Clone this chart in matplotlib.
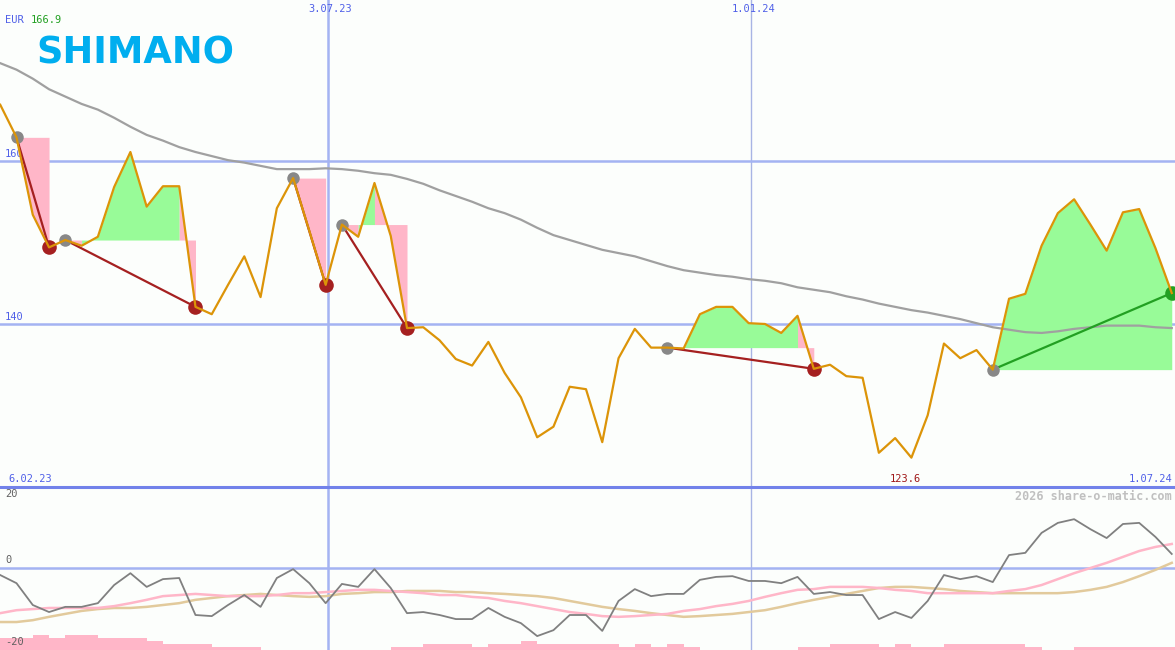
import matplotlib
matplotlib.use('Agg')
import matplotlib.pyplot as plt
import matplotlib.dates as mdates
import matplotlib.transforms as mtransforms
import pandas as pd

# weekly closes (EUR)
dates = pd.date_range('2023-02-12', periods=73, freq='7D')
price = [166.9, 162.9, 153.4, 149.4, 150.3, 149.6, 150.7, 156.8, 161.1, 154.4,
         156.9, 156.9, 142.1, 141.2, 144.8, 148.3, 143.3, 154.2, 157.9, 151.4,
         144.8, 152.2, 150.7, 157.3, 150.8, 139.5, 139.6, 138.0, 135.7, 134.9,
         137.8, 134.0, 131.0, 126.1, 127.4, 132.3, 132.0, 125.5, 135.8, 139.4,
         137.1, 137.1, 137.0, 141.2, 142.1, 142.1, 140.1, 140.0, 138.9, 141.0,
         134.5, 135.0, 133.6, 133.4, 124.2, 126.0, 123.6, 128.8, 137.6, 135.8,
         136.8, 134.4, 143.1, 143.7, 149.6, 153.6, 155.3, 152.2, 149.0, 153.7,
         154.1, 149.3, 143.8]
# moving average (grey)
ma = [172.0, 171.2, 170.1, 168.8, 167.9, 167.0, 166.3, 165.3, 164.2, 163.2,
      162.5, 161.7, 161.1, 160.6, 160.1, 159.8, 159.4, 159.0, 159.0, 159.0,
      159.1, 159.0, 158.8, 158.5, 158.3, 157.8, 157.2, 156.4, 155.7, 155.0,
      154.2, 153.6, 152.8, 151.8, 150.9, 150.3, 149.7, 149.1, 148.7, 148.3,
      147.7, 147.1, 146.6, 146.3, 146.0, 145.8, 145.5, 145.3, 145.0, 144.5,
      144.2, 143.9, 143.4, 143.0, 142.5, 142.1, 141.7, 141.4, 141.0, 140.6,
      140.1, 139.6, 139.3, 139.0, 138.9, 139.1, 139.4, 139.6, 139.8, 139.8,
      139.8, 139.6, 139.5]
# (entry index, exit index)
trades = [(1, 3), (4, 12), (18, 20), (21, 25), (41, 50), (61, 72)]

# lower panel
osc = [-1.9, -4.1, -10.0, -11.9, -10.5, -10.5, -9.5, -4.6, -1.4, -5.1,
       -3.0, -2.7, -12.7, -13.0, -10.0, -7.3, -10.5, -2.7, -0.3, -4.1,
       -9.5, -4.3, -5.1, -0.3, -5.4, -12.2, -11.9, -12.7, -13.8, -13.8,
       -10.8, -13.2, -14.9, -18.4, -16.8, -12.7, -12.7, -17.0, -8.9, -5.7,
       -7.6, -7.0, -7.0, -3.2, -2.4, -2.2, -3.5, -3.5, -4.1, -2.4,
       -7.0, -6.5, -7.3, -7.3, -13.8, -11.9, -13.5, -8.9, -1.9, -3.0,
       -2.2, -3.8, 3.5, 4.1, 9.5, 12.2, 13.2, 10.5, 8.1, 11.9,
       12.2, 8.4, 3.8]
sig1 = [-12.2, -11.4, -11.1, -10.8, -10.8, -10.8, -10.8, -10.3, -9.5, -8.6,
        -7.6, -7.3, -7.0, -7.3, -7.6, -7.6, -7.6, -7.3, -6.8, -6.8,
        -6.5, -6.2, -5.9, -5.9, -6.2, -6.5, -6.8, -7.3, -7.3, -7.8,
        -8.1, -8.9, -9.5, -10.3, -11.1, -11.9, -12.4, -13.0, -13.2, -13.0,
        -12.7, -12.4, -11.6, -11.1, -10.3, -9.7, -8.9, -7.8, -6.8, -5.9,
        -5.7, -5.1, -5.1, -5.1, -5.4, -5.9, -6.2, -6.8, -6.8, -6.8,
        -6.8, -6.8, -6.2, -5.7, -4.6, -3.0, -1.4, 0.0, 1.4, 3.0,
        4.6, 5.7, 6.5]
sig2 = [-14.6, -14.6, -14.1, -13.2, -12.4, -11.6, -11.1, -10.8, -10.8, -10.5,
        -10.0, -9.5, -8.6, -8.1, -7.6, -7.3, -7.0, -7.3, -7.6, -7.8,
        -7.6, -7.0, -6.8, -6.5, -6.5, -6.2, -6.2, -6.2, -6.5, -6.5,
        -6.8, -7.0, -7.3, -7.6, -8.1, -8.9, -9.7, -10.5, -11.1, -11.6,
        -12.2, -12.7, -13.2, -13.0, -12.7, -12.4, -11.9, -11.4, -10.5, -9.5,
        -8.6, -7.8, -7.0, -6.2, -5.4, -5.1, -5.1, -5.4, -5.7, -6.2,
        -6.5, -6.8, -6.8, -6.8, -6.8, -6.8, -6.5, -5.9, -5.1, -3.8,
        -2.2, -0.5, 1.4]
hist = [3.2, 3.2, 4.1, 3.2, 4.1, 4.1, 3.2, 3.2, 3.2, 2.4,
        1.6, 1.6, 1.6, 0.8, 0.8, 0.8, 0, 0, 0, 0,
        0, 0, 0, 0, 0.8, 0.8, 1.6, 1.6, 1.6, 0.8,
        1.6, 1.6, 2.4, 1.6, 1.6, 1.6, 1.6, 1.6, 0.8, 1.6,
        0.8, 1.6, 0.8, 0, 0, 0, 0, 0, 0, 0.8,
        0.8, 1.6, 1.6, 1.6, 0.8, 1.6, 0.8, 0.8, 1.6, 1.6,
        1.6, 1.6, 1.6, 0.8, 0, 0, 0.8, 0.8, 0.8, 0.8,
        0.8, 0.8, 0.8]

grid_dates = ['2023-07-03', '2024-01-01']
grid_labels = ['3.07.23', '1.01.24']
price_grid = [160, 140]

bg = '#fcfefc'
blue_grid = '#a4b3f2'
txt_blue = '#5060e8'
green = '#98fb98'
pink = '#ffb6c8'
mono = 'DejaVu Sans Mono'

x = mdates.date2num(dates)
gx = mdates.date2num(pd.to_datetime(grid_dates))
x_left = gx[0] - 141.1
x_right = mdates.date2num(pd.Timestamp('2024-07-01')) + 0.4

fig = plt.figure(figsize=(11.75, 6.5), dpi=100, facecolor=bg)
ax2 = fig.add_axes([0, 0, 1, 163 / 650])
ax = fig.add_axes([0, 163 / 650, 1, 487 / 650])
ax.patch.set_visible(False)
ax2.patch.set_visible(False)

for a in (ax, ax2):
    a.set_xlim(x_left, x_right)
    a.set_xticks([])
    a.set_yticks([])
    for s in a.spines.values():
        s.set_visible(False)
    a.axvline(gx[0], color=blue_grid, lw=1.8, zorder=1)
    a.axvline(gx[1], color='#a8b4e4', lw=1.0, zorder=1)

ax.set_ylim(120, 179.75)
ax2.set_ylim(-22.16, 21.9)

# main panel
tr_yax = mtransforms.blended_transform_factory(ax.transAxes, ax.transData)
tr_xax = mtransforms.blended_transform_factory(ax.transData, ax.transAxes)
for v in price_grid:
    ax.axhline(v, color=blue_grid, lw=1.8, zorder=1)
    ax.text(5 / 1175, v + 0.2, str(v), transform=tr_yax, color=txt_blue,
            fontsize=7.5, family=mono, va='bottom', zorder=1.5)

# gain / loss areas between entry level and price; a week is coloured by
# where its closing price ends up, consecutive weeks of one colour are merged
for a, b in trades:
    e = price[a]
    cols = [green if price[k + 1] >= e else pink for k in range(a, b)]
    k = a
    while k < b:
        m = k
        while m + 1 < b and cols[m + 1 - a] == cols[k - a]:
            m += 1
        ax.fill_between(x[k:m + 2], price[k:m + 2], e, color=cols[k - a],
                        lw=0, zorder=2)
        k = m + 1

ax.plot(x, ma, color='#a0a0a0', lw=1.6, zorder=3)

for a, b in trades:
    win = price[b] > price[a]
    lc = '#22a022' if win else '#a52020'
    ax.plot([x[a], x[b]], [price[a], price[b]], color=lc, lw=1.6, zorder=4)
    ax.plot(x[a], price[a], 'o', color='#888888', ms=9, mec='none', zorder=5)
    ax.plot(x[b], price[b], 'o', color=lc, ms=10.5, mec='none', zorder=5)

ax.plot(x, price, color='#dc9408', lw=1.6, zorder=6)

ax.axhline(120, color='#7282ea', lw=2.2, clip_on=False, zorder=7)

for g, lab in zip(gx, grid_labels):
    ax.text(g + 1, 1 - 9 / 487, lab, transform=tr_xax, color=txt_blue,
            fontsize=7.5, family=mono, ha='center', va='center')

ax.text(8 / 1175, 8 / 487, '6.02.23', transform=ax.transAxes, color=txt_blue,
        fontsize=7.5, family=mono, ha='left', va='center')
ax.text(1172 / 1175, 8 / 487, '1.07.24', transform=ax.transAxes, color=txt_blue,
        fontsize=7.5, family=mono, ha='right', va='center')
imin = price.index(min(price))
ax.annotate(f'{min(price):.1f}', xy=(x[imin], 0), xycoords=tr_xax,
            xytext=(-6, 8), textcoords='offset pixels', color='#a01818',
            fontsize=7.5, family=mono, ha='center', va='center')

fig.text(5 / 1175, 1 - 20 / 650, 'EUR', color=txt_blue, fontsize=7.5,
         family=mono, va='center')
fig.text(31 / 1175, 1 - 20 / 650, f'{max(price):.1f}', color='#22a022',
         fontsize=7.5, family=mono, va='center')
fig.text(36 / 1175, 1 - 63 / 650, 'SHIMANO', color='#00aeef', fontsize=26.5,
         fontweight='bold', family='DejaVu Sans', va='baseline')

# lower panel
tr2 = mtransforms.blended_transform_factory(ax2.transAxes, ax2.transData)
ax2.axhline(0, color=blue_grid, lw=1.8, zorder=1)
ax2.bar(x, hist, width=7, bottom=-22.16, align='edge', color=pink, lw=0,
        antialiased=False, zorder=2)
ax2.plot(x, sig2, color='#e2ca9c', lw=1.8, zorder=3)
ax2.plot(x, sig1, color='#ffb6c8', lw=1.8, zorder=3)
ax2.plot(x, osc, color='#808080', lw=1.3, zorder=4)
ax2.text(5 / 1175, 20, '20', transform=tr2, color='#606060', fontsize=7.5,
         family=mono, va='center', zorder=5)
ax2.text(5 / 1175, 0.8, '0', transform=tr2, color='#606060', fontsize=7.5,
         family=mono, va='bottom', zorder=5)
ax2.text(5 / 1175, -20, '-20', transform=tr2, color='#606060', fontsize=7.5,
         family=mono, va='center', zorder=5)
fig.text(1172 / 1175, 1 - 496 / 650, '2026 share-o-matic.com', color='#c0c0c0',
         fontsize=8.5, fontweight='bold', family=mono, ha='right', va='center')

fig.savefig('out.png', dpi=100, facecolor=bg)
